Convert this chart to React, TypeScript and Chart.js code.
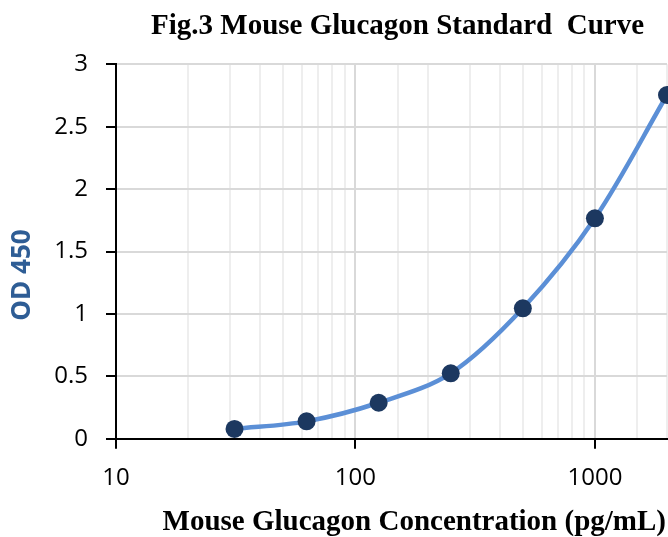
import React, { useEffect, useRef } from "react";
import { Chart, registerables } from "chart.js";

Chart.register(...registerables);

const concentrations = [31.25, 62.5, 125, 250, 500, 1000, 2000];
const od450 = [0.078, 0.139, 0.288, 0.524, 1.045, 1.766, 2.754];
const xTickLabels = [10, 100, 1000];
const yTicks = [0, 0.5, 1, 1.5, 2, 2.5, 3];

const chartTitle = "Fig.3 Mouse Glucagon Standard  Curve";
const xTitle = "Mouse Glucagon Concentration (pg/mL)";
const yTitle = "OD 450";

const isDecade = (v: number | undefined) => {
  if (v === undefined || v <= 0) return false;
  const l = Math.log10(v);
  return Math.abs(l - Math.round(l)) < 1e-9;
};

const titlesPlugin = {
  id: "titles",
  afterDraw(chart: any) {
    const ctx = chart.ctx;
    const area = chart.chartArea;
    ctx.save();
    ctx.fillStyle = "#000";
    ctx.textAlign = "center";
    ctx.textBaseline = "middle";
    ctx.font = "bold 29px 'Liberation Serif', serif";
    ctx.fillText(chartTitle, (area.left + area.right) / 2 + 6, 27);
    ctx.textAlign = "right";
    ctx.fillText(xTitle, area.right - 1, 523);
    ctx.translate(23, 275);
    ctx.rotate(-Math.PI / 2);
    ctx.textAlign = "center";
    ctx.fillStyle = "#2E5D95";
    ctx.font = "bold 26px 'Open Sans', sans-serif";
    ctx.fillText(yTitle, 0, 0);
    ctx.restore();
  },
};

export default function App() {
  const ref = useRef<HTMLCanvasElement | null>(null);
  useEffect(() => {
    if (!ref.current) return;
    const chart = new Chart(ref.current, {
      type: "line",
      data: {
        datasets: [
          {
            data: concentrations.map((x, i) => ({ x, y: od450[i] })),
            borderColor: "#5B8FD6",
            borderWidth: 4.5,
            backgroundColor: "#1C3860",
            pointBackgroundColor: "#1C3860",
            pointBorderColor: "#1C3860",
            pointRadius: 9,
            pointBorderWidth: 0,
            tension: 0.33,
            clip: false as any,
          },
        ],
      },
      options: {
        responsive: false,
        animation: false,
        layout: { autoPadding: false, padding: { top: 64.3, right: 1, left: 0, bottom: 0 } },
        plugins: {
          legend: { display: false },
          tooltip: { enabled: false },
          title: { display: false },
        },
        scales: {
          x: {
            type: "logarithmic",
            min: 10,
            max: 2000,
            afterFit: (s: any) => {
              s.height = 98.3;
              s.paddingLeft = 0;
              s.paddingRight = 0;
            },
            border: { color: "#000", width: 2 },
            grid: {
              color: (c: any) => (isDecade(c.tick?.value) ? "#d9d9d9" : "#eeeeee"),
              lineWidth: 2,
              tickColor: (c: any) => (isDecade(c.tick?.value) ? "#000" : "rgba(0,0,0,0)"),
              tickLength: 10,
              tickWidth: 2,
            },
            ticks: {
              autoSkip: false,
              maxRotation: 0,
              padding: 15,
              color: "#000",
              font: { family: "'Open Sans', sans-serif", size: 24 },
              callback: (v: any) => (xTickLabels.includes(Number(v)) ? String(v) : ""),
            },
          },
          y: {
            min: 0,
            max: 3,
            afterFit: (s: any) => {
              s.width = 116;
            },
            afterBuildTicks: (s: any) => {
              s.ticks = yTicks.map((v) => ({ value: v }));
            },
            border: { color: "#000", width: 2 },
            grid: {
              color: "#d9d9d9",
              lineWidth: 2,
              tickColor: "#000",
              tickLength: 10,
              tickWidth: 2,
            },
            ticks: {
              padding: 18,
              color: "#000",
              font: { family: "'Open Sans', sans-serif", size: 24 },
              callback: (v: any) => String(v),
            },
          },
        },
      },
      plugins: [titlesPlugin],
    });
    return () => chart.destroy();
  }, []);
  return (
    <canvas
      ref={ref}
      width={668}
      height={537}
      style={{ position: "absolute", left: 0, top: 0, display: "block" }}
    />
  );
}
